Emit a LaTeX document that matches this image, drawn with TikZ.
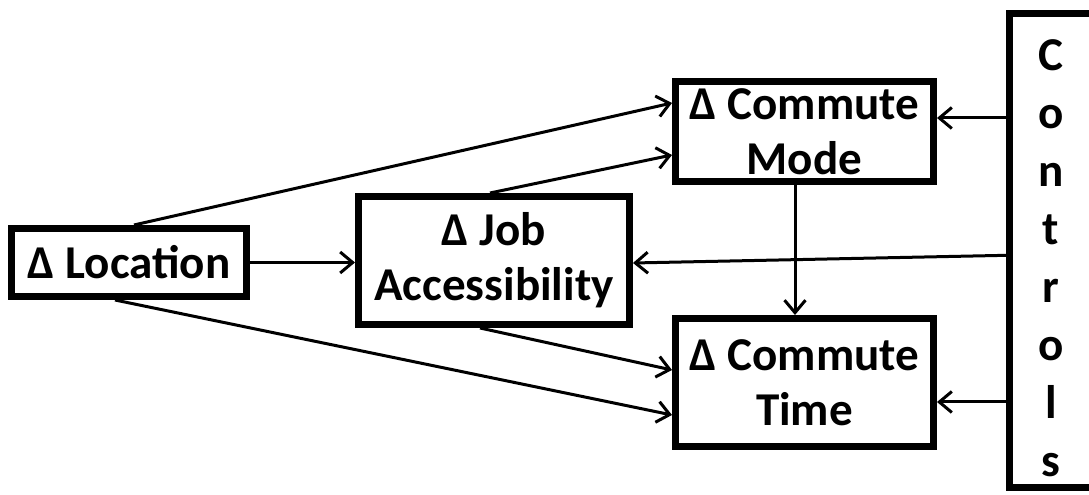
\documentclass[tikz,border=0pt]{standalone}
\usepackage{fontspec}
\setmainfont{Carlito}
\usepackage{tikz}
\usetikzlibrary{arrows.meta, positioning, calc}

\definecolor{boxblack}{RGB}{0, 0, 0}

\tikzset{
  varbox/.style={draw=boxblack, line width=0.14cm, fill=white, inner sep=0pt, align=center,
    font=\fontsize{26.8}{31.5}\selectfont\bfseries},
  arr/.style={-{Straight Barb[length=0.25cm, width=0.42cm]}, line width=0.06cm, draw=boxblack}
}

\begin{document}
\begin{tikzpicture}
  \useasboundingbox (0, 0) rectangle (21.78, 9.9);

  % Boxes
  \node[varbox, minimum width=4.70cm, minimum height=1.36cm] (loc) at (2.58, 4.65) {Δ Location};
  \node[varbox, minimum width=5.42cm, minimum height=2.56cm] (job) at (9.88, 4.69) {Δ Job\\Accessibility};
  \node[varbox, minimum width=5.16cm, minimum height=2.00cm] (mode) at (16.09, 7.27) {Δ Commute\\Mode};
  \node[varbox, minimum width=5.16cm, minimum height=2.56cm] (time) at (16.09, 2.25) {Δ Commute\\Time};

  % Controls (open to the right edge)
  \node[minimum width=1.58cm, minimum height=9.47cm, inner sep=0pt] (controls) at (20.99, 4.895) {};
  \draw[boxblack, line width=0.14cm]
    (controls.north east) -- (controls.north west) -- (controls.south west) -- (controls.south east);
  \node[font=\fontsize{26.8}{33}\selectfont\bfseries, align=center, inner sep=0pt] (ctrltext) at (21.02, 4.73)
    {C\\o\\n\\t\\r\\o\\l\\s};

  % Arrows from location
  \draw[arr] ([xshift=0.1cm]loc.north) -- ([yshift=0.57cm]mode.west);
  \draw[arr] (loc.east) -- (loc.east -| job.west);
  \draw[arr] ([xshift=-0.28cm]loc.south) -- ([yshift=-0.65cm]time.west);

  % Arrows from job accessibility
  \draw[arr] ([xshift=-0.08cm]job.north) -- ([yshift=-0.47cm]mode.west);
  \draw[arr] ([xshift=-0.28cm]job.south) -- ([yshift=0.25cm]time.west);

  % Mode to time
  \draw[arr] ([xshift=-0.19cm]mode.south) -- ([xshift=-0.19cm]time.north);

  % Arrows from controls
  \coordinate (cm) at ([yshift=0.27cm]mode.east);
  \coordinate (ct) at ([yshift=-0.39cm]time.east);
  \draw[arr] (cm -| controls.west) -- (cm);
  \draw[arr] ([yshift=-0.1cm]controls.west) -- ([yshift=-0.05cm]job.east);
  \draw[arr] (ct -| controls.west) -- (ct);
\end{tikzpicture}
\end{document}
